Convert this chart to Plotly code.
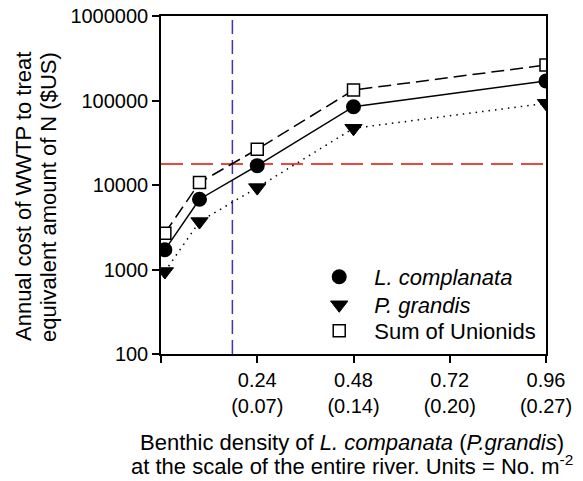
import plotly.graph_objects as go

density = [0.0096, 0.096, 0.24, 0.48, 0.96]
l_complanata = [1710, 6790, 16950, 84500, 170000]
p_grandis = [946, 3690, 9310, 46900, 92700]
sum_unionids = [2690, 10670, 26500, 133000, 263000]

threshold_cost = 17700
threshold_density = 0.178

x_tickvals = [0.24, 0.48, 0.72, 0.96]
x_ticktext = ["0.24<br>(0.07)", "0.48<br>(0.14)", "0.72<br>(0.20)", "0.96<br>(0.27)"]
y_tickvals = [100, 1000, 10000, 100000, 1000000]
y_ticktext = ["100", "1000", "10000", "100000", "1000000"]

FONT = "Liberation Sans, Arial, sans-serif"

fig = go.Figure()

# reference lines
fig.add_trace(go.Scatter(x=[0, 0.96], y=[threshold_cost, threshold_cost], mode="lines",
                         line=dict(color="#e84a3c", width=2, dash="22px,8px"), showlegend=False, hoverinfo="skip"))
fig.add_trace(go.Scatter(x=[threshold_density, threshold_density], y=[100, 1000000], mode="lines",
                         line=dict(color="#4332a8", width=1.5, dash="14px,6px"), showlegend=False, hoverinfo="skip"))

fig.add_trace(go.Scatter(x=density, y=p_grandis, mode="lines+markers",
                         line=dict(color="black", width=1.5, dash="1.5px,5px"),
                         marker=dict(symbol="triangle-down", size=15, color="black", line=dict(color="black", width=1)),
                         showlegend=False))
fig.add_trace(go.Scatter(x=density, y=sum_unionids, mode="lines+markers",
                         line=dict(color="black", width=1.5, dash="13px,6px"),
                         marker=dict(symbol="square", size=12, color="white", line=dict(color="black", width=1.5)),
                         showlegend=False))
fig.add_trace(go.Scatter(x=density, y=l_complanata, mode="lines+markers",
                         line=dict(color="black", width=1.5),
                         marker=dict(symbol="circle", size=15, color="black"), showlegend=False))

# legend entries (one legend per row for exact spacing)
fig.add_trace(go.Scatter(x=[None], y=[None], mode="markers", name="<i>L. complanata</i>", legend="legend",
                         marker=dict(symbol="circle", size=15, color="black")))
fig.add_trace(go.Scatter(x=[None], y=[None], mode="markers", name="<i>P. grandis</i>", legend="legend2",
                         marker=dict(symbol="triangle-down", size=15, color="black", line=dict(color="black", width=1))))
fig.add_trace(go.Scatter(x=[None], y=[None], mode="markers", name="Sum of Unionids", legend="legend3",
                         marker=dict(symbol="square", size=12, color="white", line=dict(color="black", width=1.5))))

leg_common = dict(x=0.372, xanchor="left", yanchor="middle", bgcolor="rgba(0,0,0,0)",
                  font=dict(size=22, family=FONT), itemwidth=60)

axis_common = dict(ticks="outside", ticklen=7, tickwidth=1.5, tickcolor="black",
                   tickfont=dict(size=20), ticklabeloverflow="allow",
                   showline=True, linecolor="black", linewidth=1.5, mirror=True,
                   showgrid=False, zeroline=False)

fig.update_layout(
    width=575, height=473,
    margin=dict(l=153, r=37, t=8, b=127, autoexpand=False),
    paper_bgcolor="white", plot_bgcolor="white",
    font=dict(family=FONT, size=20, color="black"),
    showlegend=True,
    legend=dict(y=0.2278, **leg_common),
    legend2=dict(y=0.145, **leg_common),
    legend3=dict(y=0.068, **leg_common),
    xaxis=dict(range=[0, 0.96], tickvals=x_tickvals, ticktext=x_ticktext,
               minor=dict(tickvals=[0], ticks="outside", ticklen=7, tickwidth=1.5, tickcolor="black", showgrid=False),
               **axis_common),
    yaxis=dict(type="log", range=[2, 6], tickvals=y_tickvals, ticktext=y_ticktext, **axis_common),
)

title_font = dict(family=FONT, size=22, color="black")
annots = [
    dict(text="Benthic density of <i>L. companata</i> (<i>P.grandis</i>)", x=0.496, y=-0.2633),
    dict(text="at the scale of the entire river. Units = No. m<sup>-2</sup>", x=0.496, y=-0.3284),
]
for a in annots:
    fig.add_annotation(xref="paper", yref="paper", showarrow=False, xanchor="center", yanchor="middle",
                       font=title_font, **a)
for text, x in [("Annual cost of WWTP to treat", -0.3558), ("equivalent amount of N ($US)", -0.2909)]:
    fig.add_annotation(text=text, x=x, y=0.4645, xref="paper", yref="paper", showarrow=False,
                       textangle=-90, xanchor="center", yanchor="middle", font=title_font)

fig.write_html("out.html")
